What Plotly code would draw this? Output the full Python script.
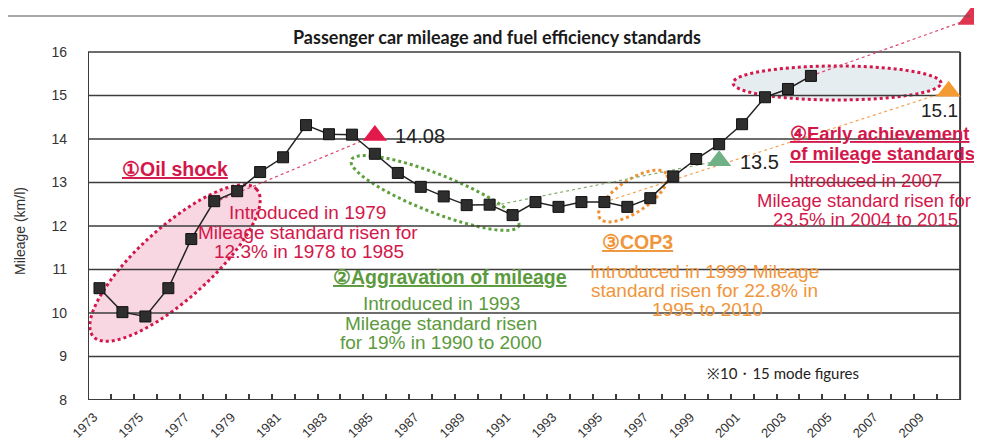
import math
import plotly.graph_objects as go

# ---------------------------------------------------------------- data
years = list(range(1973, 2005))
mileage = [10.57, 10.02, 9.92, 10.57, 11.70, 12.57, 12.80, 13.24, 13.58, 14.32,
           14.11, 14.10, 13.66, 13.22, 12.90, 12.68, 12.48, 12.49, 12.25, 12.55,
           12.44, 12.55, 12.55, 12.44, 12.64, 13.14, 13.54, 13.88, 14.34, 14.96,
           15.15, 15.45]

axis_years = list(range(1973, 2011))
tick_years = list(range(1973, 2011, 2))
y_ticks = list(range(8, 17))

# fuel efficiency standards (triangles)
std_years = [1985, 2000, 2010]
std_values = [14.08, 13.5, 15.1]
std_labels = ['14.08', '13.5', '15.1']
std_colors = ['#e3184b', '#6fb184', '#f59b33']

# 2015 standard, drawn where the chart runs out of room
target_year = [2011.15]
target_value = [16.8]

# thin dotted guide lines
oil_x, oil_y = [1978, 1985], [12.54, 14.08]
agg_x, agg_y = [1990, 2000], [12.45, 13.5]
cop_x, cop_y = [1995, 2010], [12.55, 15.1]
early_x, early_y = [2004, 2011.15], [15.45, 16.8]

# ---------------------------------------------------------------- geometry
# the page body adds an 8px margin, so the figure is drawn 8px smaller
BODY = 8
W, H = 982 - BODY, 445 - BODY
PL, PB = 88, 400          # page pixel x of plot left, page pixel y of value 8
PX_YR, PX_UNIT = 22.95, 43.5
X0, Y0 = 1972.5, 8
PW = 982 - PL             # plot width in pixels
PH = PB - BODY            # plot height in pixels


def xd(px):
    return X0 + (px - PL) / PX_YR


def yd(py):
    return Y0 + (PB - py) / PX_UNIT


def xp(px):
    return (px - PL) / PW


def yp(py):
    return (PB - py) / PH


def ellipse_path(cx, cy, a, b, ang, n=90):
    th = math.radians(ang)
    pts = []
    for i in range(n):
        t = 2 * math.pi * i / n
        px = cx + a * math.cos(t) * math.cos(th) - b * math.sin(t) * math.sin(th)
        py = cy - (a * math.cos(t) * math.sin(th) + b * math.sin(t) * math.cos(th))
        pts.append('%.4f,%.4f' % (xd(px), yd(py)))
    return 'M' + ' L'.join(pts) + ' Z'


RED = '#d3174b'
GREEN = '#5b9a3d'
ORANGE = '#f0953a'
FONT = 'Liberation Sans, Arial, sans-serif'
CAL = 'Lato, Open Sans, sans-serif'

fig = go.Figure()

# ---------------------------------------------------------------- shapes
shapes = []
# ellipses
shapes.append(dict(type='path', path=ellipse_path(175, 263, 110, 36, 42), xref='x', yref='y',
                   fillcolor='rgba(238,150,178,0.38)', line=dict(color=RED, width=3, dash='dot'), layer='below'))
shapes.append(dict(type='path', path=ellipse_path(435, 193, 90, 19, -21.5), xref='x', yref='y',
                   fillcolor='rgba(0,0,0,0)', line=dict(color='#5fa03f', width=3, dash='dot'), layer='below'))
shapes.append(dict(type='path', path=ellipse_path(633, 196, 40, 16, 33.7), xref='x', yref='y',
                   fillcolor='rgba(0,0,0,0)', line=dict(color='#f09030', width=3, dash='dot'), layer='below'))
shapes.append(dict(type='path', path=ellipse_path(837, 83, 104, 17, 0), xref='x', yref='y',
                   fillcolor='rgba(200,215,222,0.45)', line=dict(color=RED, width=3, dash='dot'), layer='below'))

# grid and frame
for v in y_ticks:
    shapes.append(dict(type='line', xref='x', yref='y', x0=X0, x1=2010.5, y0=v, y1=v,
                       line=dict(color='#3c3c3c', width=2 if v == 8 else 1.3), layer='below'))
for xv in [X0, 2010.5]:
    shapes.append(dict(type='line', xref='x', yref='y', x0=xv, x1=xv, y0=8, y1=16,
                       line=dict(color='#3c3c3c', width=2), layer='below'))

# outer frame line at the very top
shapes.append(dict(type='line', xref='paper', yref='paper',
                   x0=xp(BODY), x1=xp(970), y0=yp(16), y1=yp(16),
                   line=dict(color='#555555', width=1)))

# ---------------------------------------------------------------- traces
for gx, gy, col in [(oil_x, oil_y, '#d9476d'), (agg_x, agg_y, '#86ad6f'),
                    (cop_x, cop_y, '#f0a356'), (early_x, early_y, '#d9476d')]:
    fig.add_trace(go.Scatter(x=gx, y=gy, mode='lines', hoverinfo='skip',
                             line=dict(color=col, width=1.2, dash='dot')))

fig.add_trace(go.Scatter(x=years, y=mileage, mode='lines+markers',
                         line=dict(color='#222222', width=1.5),
                         marker=dict(symbol='square', size=11, color='#2e2e2e',
                                     line=dict(color='#111111', width=1))))

fig.add_trace(go.Scatter(x=std_years, y=std_values, mode='markers',
                         marker=dict(symbol='triangle-up', size=21, color=std_colors)))
fig.add_trace(go.Scatter(x=target_year, y=target_value, mode='markers', cliponaxis=False,
                         marker=dict(symbol='triangle-up', size=30, color='#e0344f')))

# ---------------------------------------------------------------- text
ann = []


def txt(px, py, text, color, size=19, bold=False, underline=False, anchor='center', family=FONT):
    if underline:
        text = '<u>' + text + '</u>'
    if bold:
        text = '<b>' + text + '</b>'
    ann.append(dict(x=xd(px), y=yd(py), xref='x', yref='y', text=text, showarrow=False,
                    xanchor=anchor, yanchor='middle',
                    font=dict(family=family, size=size, color=color)))


txt(497, 37, 'Passenger car mileage and fuel efficiency standards', '#1a1a1a', 18, bold=True, family=CAL)

txt(175, 169, '①Oil shock', RED, 19.5, bold=True, underline=True)
txt(307, 212, 'Introduced in 1979', RED)
txt(308, 232, 'Mileage standard risen for', RED)
txt(309, 251, '12.3% in 1978 to 1985', RED)

txt(450, 277, '②Aggravation of mileage', GREEN, 19.5, bold=True, underline=True)
txt(441, 303, 'Introduced in 1993', GREEN)
txt(441, 323, 'Mileage standard risen', GREEN)
txt(441, 342, 'for 19% in 1990 to 2000', GREEN)

txt(637, 242, '③COP3', ORANGE, 19.5, bold=True, underline=True)
txt(704, 271, 'Introduced in 1999 Mileage', ORANGE)
txt(704, 290, 'standard risen for 22.8% in', ORANGE)
txt(707, 309, '1995 to 2010', ORANGE)

txt(788, 133, '④Early achievement', RED, 18.5, bold=True, underline=True, anchor='left')
txt(788, 153, 'of mileage standards', RED, 18.5, bold=True, underline=True, anchor='left')
txt(865, 180, 'Introduced in 2007', RED, 18.5)
txt(864, 200, 'Mileage standard risen for', RED, 18.5)
txt(865, 219, '23.5% in 2004 to 2015', RED, 18.5)

txt(393, 136, std_labels[0], '#222222', 20, anchor='left')
txt(738, 162, std_labels[1], '#222222', 20, anchor='left')
txt(919, 110, std_labels[2], '#222222', 19, anchor='left')

txt(783, 373, '※10・15 mode figures', '#222222', 15, family=CAL)

ann.append(dict(x=xp(20), y=yd(231), xref='paper', yref='y', text='Mileage (km/l)',
                textangle=-90, showarrow=False, xanchor='center', yanchor='middle',
                font=dict(family=FONT, size=14, color='#333333')))

# ---------------------------------------------------------------- layout
fig.update_layout(
    width=W, height=H,
    margin=dict(l=PL - BODY, r=0, t=0, b=H - PH, pad=0),
    plot_bgcolor='white', paper_bgcolor='white',
    showlegend=False,
    shapes=shapes,
    annotations=ann,
    xaxis=dict(range=[X0, X0 + PW / PX_YR], showgrid=False, zeroline=False, showline=False,
               tickmode='array', tickvals=[y - 0.25 for y in tick_years],
               ticktext=[str(y) for y in tick_years],
               ticks='', tickangle=-45, ticklabelstandoff=6, automargin=False,
               tickfont=dict(family=FONT, size=13, color='#333333'),
               minor=dict(tickmode='array', tickvals=[y + 0.5 for y in axis_years[:-1]],
                          ticks='inside', ticklen=6, tickwidth=1.5, tickcolor='#3c3c3c')),
    yaxis=dict(range=[Y0, Y0 + PH / PX_UNIT], showgrid=False, zeroline=False, showline=False,
               tickmode='array', tickvals=y_ticks, ticks='', ticklabelstandoff=20,
               automargin=False,
               tickfont=dict(family=FONT, size=14, color='#333333')),
)

fig.write_html('out.html')
